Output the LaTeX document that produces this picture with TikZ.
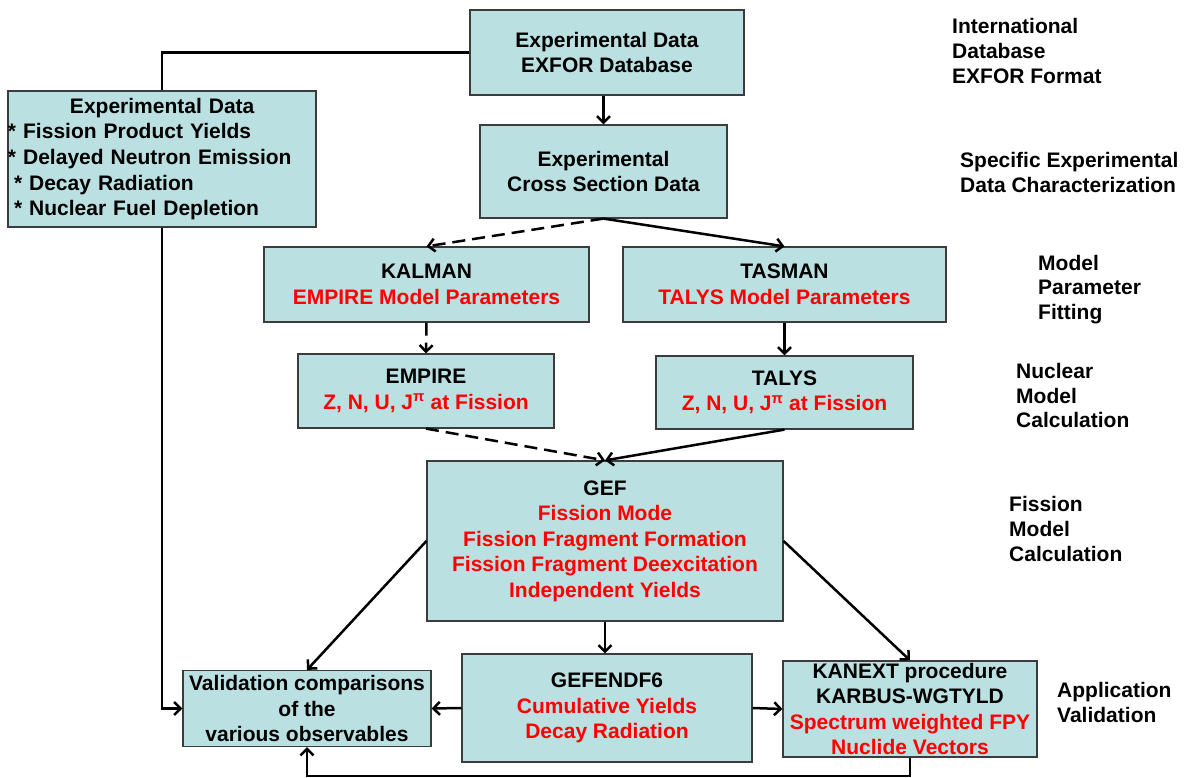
\documentclass[tikz,border=0pt]{standalone}
\usepackage{fontspec}
\setmainfont{Liberation Sans}
\usetikzlibrary{arrows.meta,calc}
\definecolor{boxfill}{RGB}{186,224,226}
\definecolor{boxline}{RGB}{60,60,60}
\definecolor{rd}{RGB}{255,0,0}
\tikzset{
  box/.style={draw=boxline, line width=1.2pt, fill=boxfill, inner sep=0pt, align=center,
    font={\fontsize{21}{25.5}\selectfont\bfseries}},
  side/.style={anchor=west, inner sep=0pt, align=left,
    font={\fontsize{21}{24.6}\selectfont\bfseries}},
  conn/.style={line width=2.5pt, draw=black},
  arr/.style={conn, -{Straight Barb[length=6.5pt,width=13pt]}},
  dashedarr/.style={arr, dash pattern=on 13pt off 7pt},
}
\begin{document}
\begin{tikzpicture}[x=1pt,y=-1pt]
\useasboundingbox (0,0) rectangle (1187,778);
% boxes
\node[box, minimum width=274, minimum height=85] (exfor) at (607,52.5)
  {Experimental Data\\EXFOR Database};
\node[box, minimum width=308, minimum height=136, text width=308, align=left,
  font={\fontsize{21}{25.7}\selectfont\bfseries}] (left) at (162,159)
  {\hspace*{62pt}Experimental Data\\{}* Fission Product Yields\\{}* Delayed Neutron Emission\\\hspace*{6pt}* Decay Radiation\\\hspace*{6pt}* Nuclear Fuel Depletion};
\node[box, minimum width=247, minimum height=93] (cross) at (603.5,171.5)
  {Experimental\\Cross Section Data};
\node[box, minimum width=325, minimum height=75] (kalman) at (426.5,284.5)
  {KALMAN\\\textcolor{rd}{EMPIRE Model Parameters}};
\node[box, minimum width=323, minimum height=75] (tasman) at (784.5,284.5)
  {TASMAN\\\textcolor{rd}{TALYS Model Parameters}};
\node[box, minimum width=256, minimum height=74] (empire) at (426,391)
  {EMPIRE\\\textcolor{rd}{Z, N, U, J\textsuperscript{π} at Fission}};
\node[box, minimum width=257, minimum height=73] (talys) at (784.5,392.5)
  {TALYS\\\textcolor{rd}{Z, N, U, J\textsuperscript{π} at Fission}};
\node[box, minimum width=356, minimum height=160] (gef) at (605,541)
  {GEF\\\textcolor{rd}{Fission Mode}\\\textcolor{rd}{Fission Fragment Formation}\\\textcolor{rd}{Fission Fragment Deexcitation}\\\textcolor{rd}{Independent Yields}};
\node[box, minimum width=248, minimum height=76] (valid) at (307,708.5)
  {Validation comparisons\\of the\\various observables};
\node[box, minimum width=290, minimum height=108] (gefendf) at (607,708)
  {GEFENDF6\\\textcolor{rd}{Cumulative Yields}\\\textcolor{rd}{Decay Radiation}};
\node[box, minimum width=254, minimum height=96] (kanext) at (910,709)
  {KANEXT procedure\\KARBUS-WGTYLD\\\textcolor{rd}{Spectrum weighted FPY}\\\textcolor{rd}{Nuclide Vectors}};
% side labels
\node[side] (l1) at (952,51) {International\\Database\\EXFOR Format};
\node[side] (l2) at (960,172.5) {Specific Experimental\\Data Characterization};
\node[side] (l3) at (1038,289.5) {Model\\Parameter\\Fitting};
\node[side] (l4) at (1016,395.5) {Nuclear\\Model\\Calculation};
\node[side] (l5) at (1009,529) {Fission\\Model\\Calculation};
\node[side] (l6) at (1057,702.5) {Application\\Validation};
% connectors
\coordinate (bot) at (0,776);
\draw[conn] (exfor.west) -| (left.north);
\draw[arr] (left.south) |- (valid.west);
\draw[arr] (exfor.south -| cross.north) -- (cross.north);
\draw[dashedarr] (cross.south) -- (kalman.north);
\draw[arr] (cross.south) -- (tasman.north);
\draw[dashedarr] (kalman.south) -- (empire.north);
\draw[arr] (tasman.south) -- (talys.north);
\draw[dashedarr] (empire.south) -- (gef.north);
\draw[arr] (talys.south) -- (gef.north);
\draw[arr] (gef.west) -- (valid.north);
\draw[arr] (gef.east) -- (kanext.north);
\draw[arr] (gef.south) -- (gef.south |- gefendf.north);
\draw[arr] (gefendf.west) -- (valid.east);
\draw[arr] (gefendf.east) -- (kanext.west);
\draw[arr] (kanext.south) -- (kanext.south |- bot) -| (valid.south);
\end{tikzpicture}
\end{document}
